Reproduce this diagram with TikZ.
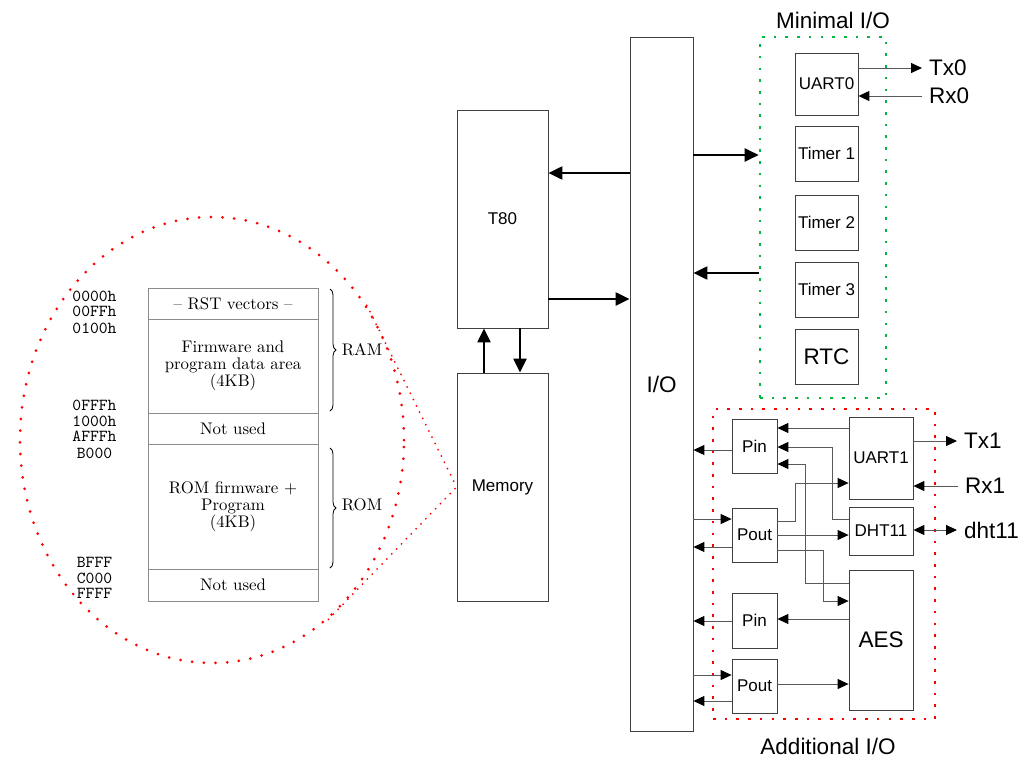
\documentclass[tikz,border=0pt]{standalone}
\usepackage{fontspec}
\newfontfamily\lsans{Liberation Sans}
\newfontfamily\lmten{lmroman10-regular}[Extension=.otf]
\newfontfamily\lmtt{lmmono10-regular}[Extension=.otf]
\usetikzlibrary{arrows.meta,shapes.geometric,decorations.pathreplacing}
\definecolor{dotred}{RGB}{255,0,0}
\definecolor{dotgreen}{RGB}{0,185,60}
\begin{document}
\begin{tikzpicture}[x=1pt,y=-1pt,
  blk/.style={draw=black!75, line width=0.8pt, inner sep=0pt, font=\lsans\fontsize{17}{19}\selectfont},
  bigfont/.style={font=\lsans\fontsize{22.5}{25}\selectfont},
  sig/.style={bigfont, anchor=west, inner xsep=7pt, inner ysep=0pt},
  wire/.style={draw=black!65, line width=1pt, >={Triangle[length=11pt,width=10pt,color=black]}, ->},
  bus/.style={draw=black, line width=2.2pt, >={Triangle[length=14pt,width=13pt]}, ->},
  gbox/.style={draw=dotgreen, line width=2.6pt, dash pattern=on 2.6pt off 9.1pt, inner sep=0pt},
  rbox/.style={draw=dotred, line width=2.6pt, dash pattern=on 2.6pt off 9.1pt, inner sep=0pt},
  ell/.style={ellipse, draw=dotred, line width=3pt, dash pattern=on 0pt off 11.7pt, line cap=round, inner sep=0pt},
  zline/.style={draw=dotred, line width=2pt, dash pattern=on 0pt off 7pt, line cap=round},
  row/.style={draw=black!45, line width=0.7pt, minimum width=170pt, align=center, inner sep=0pt, font=\lmten\fontsize{16.8}{16.8}\selectfont},
  addr/.style={inner sep=0pt, font=\lmtt\fontsize{16.8}{17}\selectfont},
  serif/.style={inner sep=0pt, font=\lmten\fontsize{16.8}{17}\selectfont},
  bracedeco/.style={decorate, decoration={brace, amplitude=6pt}, line width=0.8pt}
]
\useasboundingbox (0,0) rectangle (1030,758);

% ---------------- memory map ----------------
\node[ell, minimum width=384pt, minimum height=446pt] (zoomell) at (212,440) {};

\node[row, minimum height=31pt] (r1) at (233,303.5) {\textendash{} RST vectors \textendash};
\node[row, minimum height=94pt] (r2) at (233,366) {Firmware and\\program data area\\(4KB)};
\node[row, minimum height=31pt] (r3) at (233,428.5) {Not used};
\node[row, minimum height=125pt] (r4) at (233,506.5) {ROM firmware +\\Program\\(4KB)};
\node[row, minimum height=32pt] (r5) at (233,585) {Not used};

\node[addr] (a1) at (94.5,296.7) {0000h};
\node[addr] (a2) at (94.5,311.7) {00FFh};
\node[addr] (a3) at (94.5,328.3) {0100h};
\node[addr] (a4) at (94.5,405.7) {0FFFh};
\node[addr] (a5) at (94.5,421.5) {1000h};
\node[addr] (a6) at (94.5,436.7) {AFFFh};
\node[addr] (a7) at (94.5,453.3) {B000};
\node[addr] (a8) at (94.5,562.3) {BFFF};
\node[addr] (a9) at (94.5,578.3) {C000};
\node[addr] (a10) at (94.5,593.3) {FFFF};

\draw[bracedeco] (330,289) -- (330,411);
\draw[bracedeco] (330,448) -- (330,568);
\node[serif] (ram) at (362,350) {RAM};
\node[serif] (rom) at (362,505) {ROM};

% ---------------- core ----------------
\node[blk, minimum width=91pt, minimum height=218pt] (t80) at (502.5,219) {T80};
\node[blk, minimum width=91pt, minimum height=228pt] (mem) at (502.5,487) {Memory};
\node[blk, bigfont, minimum width=63pt, minimum height=694pt] (io) at (661.5,384) {I/O};

\draw[zline] (zoomell.41.5) -- (mem.west);
\draw[zline] (zoomell.-57.4) -- (mem.west);

\draw[bus] (io.west |- 0,173) -- (t80.east |- 0,173);
\draw[bus] (t80.east |- 0,299) -- (io.west |- 0,299);
\draw[bus] (mem.north -| 484,0) -- (t80.south -| 484,0);
\draw[bus] (t80.south -| 520,0) -- (mem.north -| 520,0);

% ---------------- minimal I/O ----------------
\node[gbox, minimum width=126pt, minimum height=361pt] (minio) at (823,217.5) {};
\node[bigfont] (minlbl) at (833,20) {Minimal I/O};
\node[blk, minimum width=63pt, minimum height=62pt] (uart0) at (826.5,84) {UART0};
\node[blk, minimum width=63pt, minimum height=55pt] (tim1) at (826.5,153.5) {Timer 1};
\node[blk, minimum width=63pt, minimum height=55pt] (tim2) at (826.5,222.5) {Timer 2};
\node[blk, minimum width=63pt, minimum height=55pt] (tim3) at (826.5,289.5) {Timer 3};
\node[blk, bigfont, minimum width=63pt, minimum height=55pt] (rtc) at (826.5,357) {RTC};

\draw[bus] (io.east |- 0,155) -- (minio.west |- 0,155);
\draw[bus] (minio.west |- 0,273) -- (io.east |- 0,273);

\node[sig] (tx0) at (922,68) {Tx0};
\node[sig] (rx0) at (922,96) {Rx0};
\draw[wire] (uart0.east |- tx0.west) -- (tx0.west);
\draw[wire] (rx0.west) -- (uart0.east |- rx0.west);

% ---------------- additional I/O ----------------
\node[rbox, minimum width=222pt, minimum height=310pt] (addio) at (824,564) {};
\node[bigfont] (addlbl) at (828,746) {Additional I/O};
\node[blk, minimum width=45pt, minimum height=54pt] (pin1) at (754.5,446) {Pin};
\node[blk, minimum width=45pt, minimum height=54pt] (pout1) at (754.5,535) {Pout};
\node[blk, minimum width=45pt, minimum height=55pt] (pin2) at (754.5,620.5) {Pin};
\node[blk, minimum width=45pt, minimum height=54pt] (pout2) at (754.5,686) {Pout};
\node[blk, minimum width=64pt, minimum height=82pt] (uart1) at (881,458) {UART1};
\node[blk, minimum width=64pt, minimum height=48pt] (dht) at (881,531) {DHT11};
\node[blk, bigfont, minimum width=64pt, minimum height=140pt] (aes) at (881,640) {AES};

\node[sig] (tx1) at (957,441) {Tx1};
\node[sig] (rx1) at (958,486) {Rx1};
\node[sig] (dhtl) at (957,530) {dht11};
\draw[wire] (uart1.east |- tx1.west) -- (tx1.west);
\draw[wire] (rx1.west) -- (uart1.east |- rx1.west);
\draw[wire, <->] (dht.east |- dhtl.west) -- (dhtl.west);

% to / from the I/O bus
\draw[wire] (pin1.west |- 0,450) -- (io.east |- 0,450);
\draw[wire] (io.east |- 0,519) -- (pout1.west |- 0,519);
\draw[wire] (pout1.west |- 0,547) -- (io.east |- 0,547);
\draw[wire] (pin2.west |- 0,621) -- (io.east |- 0,621);
\draw[wire] (io.east |- 0,675) -- (pout2.west |- 0,675);
\draw[wire] (pout2.west |- 0,701) -- (io.east |- 0,701);

% internal wiring
\draw[wire] (uart1.west |- 0,428) -- (pin1.east |- 0,428);
\draw[wire] (dht.west |- 0,519) -| (832,447) -- (pin1.east |- 0,447);
\draw[wire] (aes.west |- 0,583) -| (805,464) -- (pin1.east |- 0,464);
\draw[wire] (pout1.east |- 0,521) -| (795,483) -- (uart1.west |- 0,483);
\draw[wire] (pout1.east |- 0,535) -- (dht.west |- 0,535);
\draw[wire] (pout1.east |- 0,550) -| (823,601) -- (aes.west |- 0,601);
\draw[wire] (aes.west |- 0,619) -- (pin2.east |- 0,619);
\draw[wire] (pout2.east |- 0,684) -- (aes.west |- 0,684);
\end{tikzpicture}
\end{document}
